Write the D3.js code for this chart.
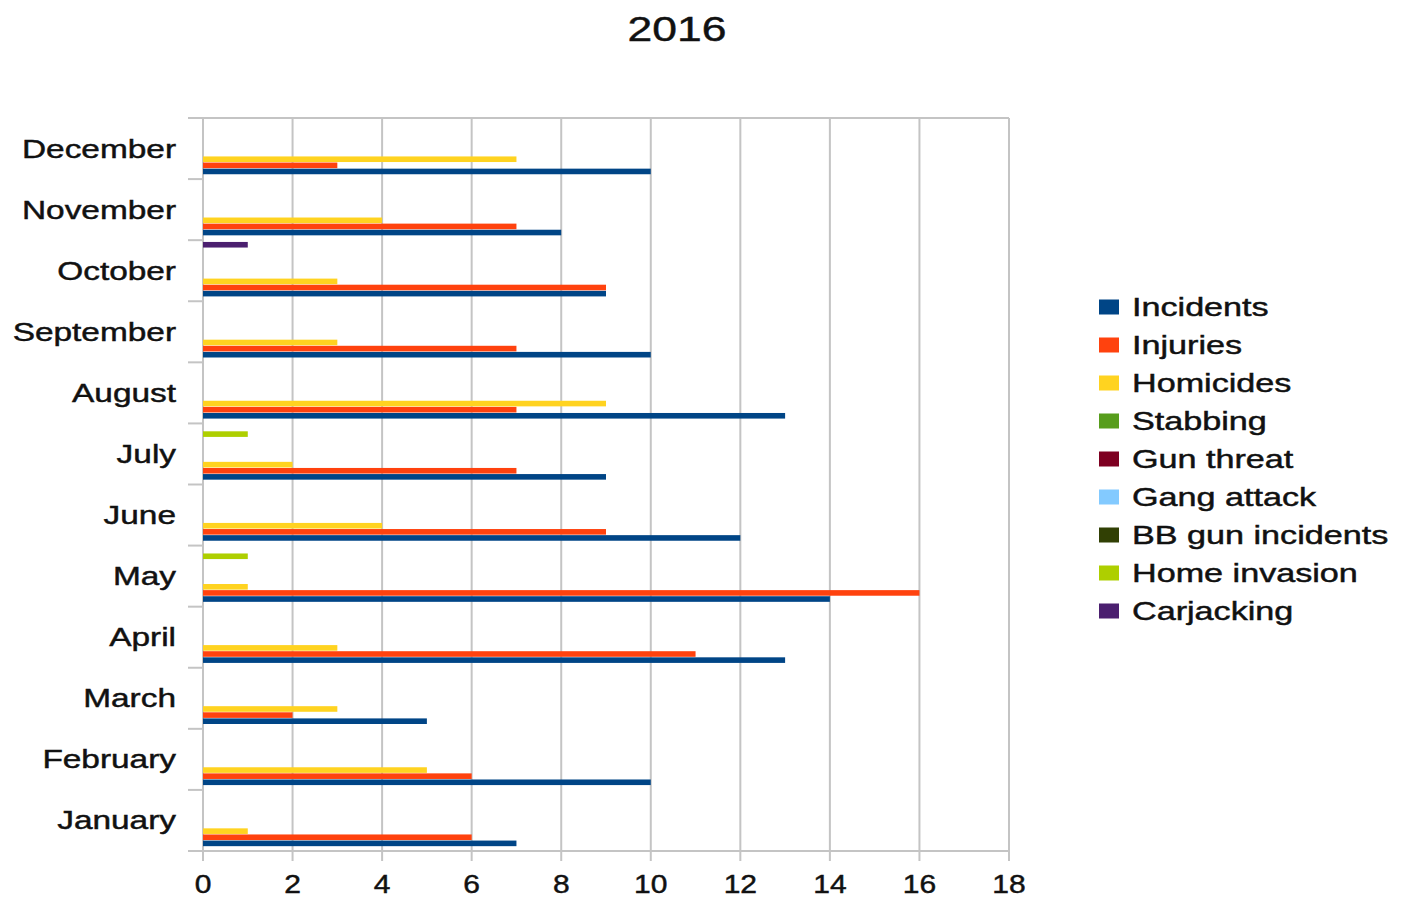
<!DOCTYPE html>
<html>
<head>
<meta charset="utf-8">
<script src="https://cdn.jsdelivr.net/npm/d3@7"></script>
<style>
    body { margin: 0; background: white; }
    text { font-family: "Liberation Sans", Arial, sans-serif; fill: #111; stroke: #111; stroke-width: 0.45px; }
</style>
</head>
<body>
<div id="chart"></div>
<script>
// Data
const months = ["January", "February", "March", "April", "May", "June",
    "July", "August", "September", "October", "November", "December"];
const seriesNames = ["Incidents", "Injuries", "Homicides", "Stabbing", "Gun threat",
    "Gang attack", "BB gun incidents", "Home invasion", "Carjacking"];
const seriesColors = ["#004586", "#ff420e", "#ffd320", "#579d1c", "#7e0021",
    "#83caff", "#314004", "#aecf00", "#4b1f6f"];

const incidents    = [7, 10, 5, 13, 14, 12, 9, 13, 10, 9, 8, 10];
const injuries     = [6, 6, 2, 11, 16, 9, 7, 7, 7, 9, 7, 3];
const homicides    = [1, 5, 3, 3, 1, 4, 2, 9, 3, 3, 4, 7];
const stabbing     = [0, 0, 0, 0, 0, 0, 0, 0, 0, 0, 0, 0];
const gunThreat    = [0, 0, 0, 0, 0, 0, 0, 0, 0, 0, 0, 0];
const gangAttack   = [0, 0, 0, 0, 0, 0, 0, 0, 0, 0, 0, 0];
const bbGun        = [0, 0, 0, 0, 0, 0, 0, 0, 0, 0, 0, 0];
const homeInvasion = [0, 0, 0, 0, 1, 0, 1, 0, 0, 0, 0, 0];
const carjacking   = [0, 0, 0, 0, 0, 0, 0, 0, 0, 1, 0, 0];

const xTicks = [0, 2, 4, 6, 8, 10, 12, 14, 16, 18];

const allValues = [incidents, injuries, homicides, stabbing, gunThreat,
    gangAttack, bbGun, homeInvasion, carjacking];

// Layout
const W = 1406, H = 897;
const pleft = 203, pright = 1009, ptop = 118, pbottom = 851;
const stretch = 1.27; // text in the picture is drawn wide
const gridColor = "#c4c4c4";

let svg = d3.select("#chart")
    .append("svg")
    .attr("width", W)
    .attr("height", H);

let x = d3.scaleLinear()
    .domain([0, 18])
    .range([pleft, pright]);

let y = d3.scaleBand()
    .domain(months.slice().reverse())
    .range([ptop, pbottom])
    .paddingInner(0);

let ySub = d3.scaleBand()
    .domain(seriesNames.slice().reverse())
    .range([0, y.bandwidth()])
    .paddingInner(0)
    .paddingOuter(0.5)
    .align(0.25);

// Vertical grid
svg.append("g")
    .selectAll("line")
    .data(xTicks)
    .join("line")
        .attr("x1", d => x(d))
        .attr("x2", d => x(d))
        .attr("y1", ptop)
        .attr("y2", pbottom + 10)
        .attr("stroke", gridColor)
        .attr("stroke-width", 2);

// Top border
svg.append("line")
    .attr("x1", pleft).attr("x2", pright)
    .attr("y1", ptop).attr("y2", ptop)
    .attr("stroke", gridColor)
    .attr("stroke-width", 2);

// Left ticks at band edges
let edges = months.map(m => y(m)).concat([pbottom]);
svg.append("g")
    .selectAll("line")
    .data(edges)
    .join("line")
        .attr("x1", pleft - 15)
        .attr("x2", pleft)
        .attr("y1", d => d)
        .attr("y2", d => d)
        .attr("stroke", gridColor)
        .attr("stroke-width", 2);

// Bottom axis line
svg.append("line")
    .attr("x1", pleft - 15).attr("x2", pright)
    .attr("y1", pbottom).attr("y2", pbottom)
    .attr("stroke", gridColor)
    .attr("stroke-width", 2);

// Bars
let rows = [];
months.forEach((m, mi) => {
    seriesNames.forEach((s, si) => {
        let v = allValues[si][mi];
        if (v > 0) rows.push({ month: m, series: s, value: v, color: seriesColors[si] });
    });
});

const barH = 5.6;
svg.append("g")
    .selectAll("rect")
    .data(rows)
    .join("rect")
        .attr("x", x(0))
        .attr("y", d => y(d.month) + ySub(d.series) + (ySub.bandwidth() - barH) / 2)
        .attr("width", d => x(d.value) - x(0))
        .attr("height", barH)
        .attr("fill", d => d.color);

// Month labels
svg.append("g")
    .selectAll("text")
    .data(months)
    .join("text")
        .attr("transform", d => `translate(176, ${y(d) + y.bandwidth() / 2 + 9}) scale(1.31, 1)`)
        .attr("text-anchor", "end")
        .attr("font-size", 25.5)
        .text(d => d);

// X tick labels
svg.append("g")
    .selectAll("text")
    .data(xTicks)
    .join("text")
        .attr("transform", d => `translate(${x(d)}, 893) scale(${stretch - 0.07}, 1)`)
        .attr("text-anchor", "middle")
        .attr("font-size", 25)
        .text(d => d);

// Title
svg.append("text")
    .attr("transform", `translate(677, 41) scale(${stretch}, 1)`)
    .attr("text-anchor", "middle")
    .attr("font-size", 35)
    .text("2016");

// Legend
let legend = svg.append("g")
    .selectAll("g")
    .data(seriesNames)
    .join("g")
        .attr("transform", (d, i) => `translate(1099, ${307 + i * 38})`);

legend.append("rect")
    .attr("x", 0)
    .attr("y", -7.5)
    .attr("width", 20)
    .attr("height", 15)
    .attr("fill", (d, i) => seriesColors[i]);

legend.append("text")
    .attr("transform", `translate(33, 9) scale(1.34, 1)`)
    .attr("font-size", 25.5)
    .text(d => d);
</script>
</body>
</html>
